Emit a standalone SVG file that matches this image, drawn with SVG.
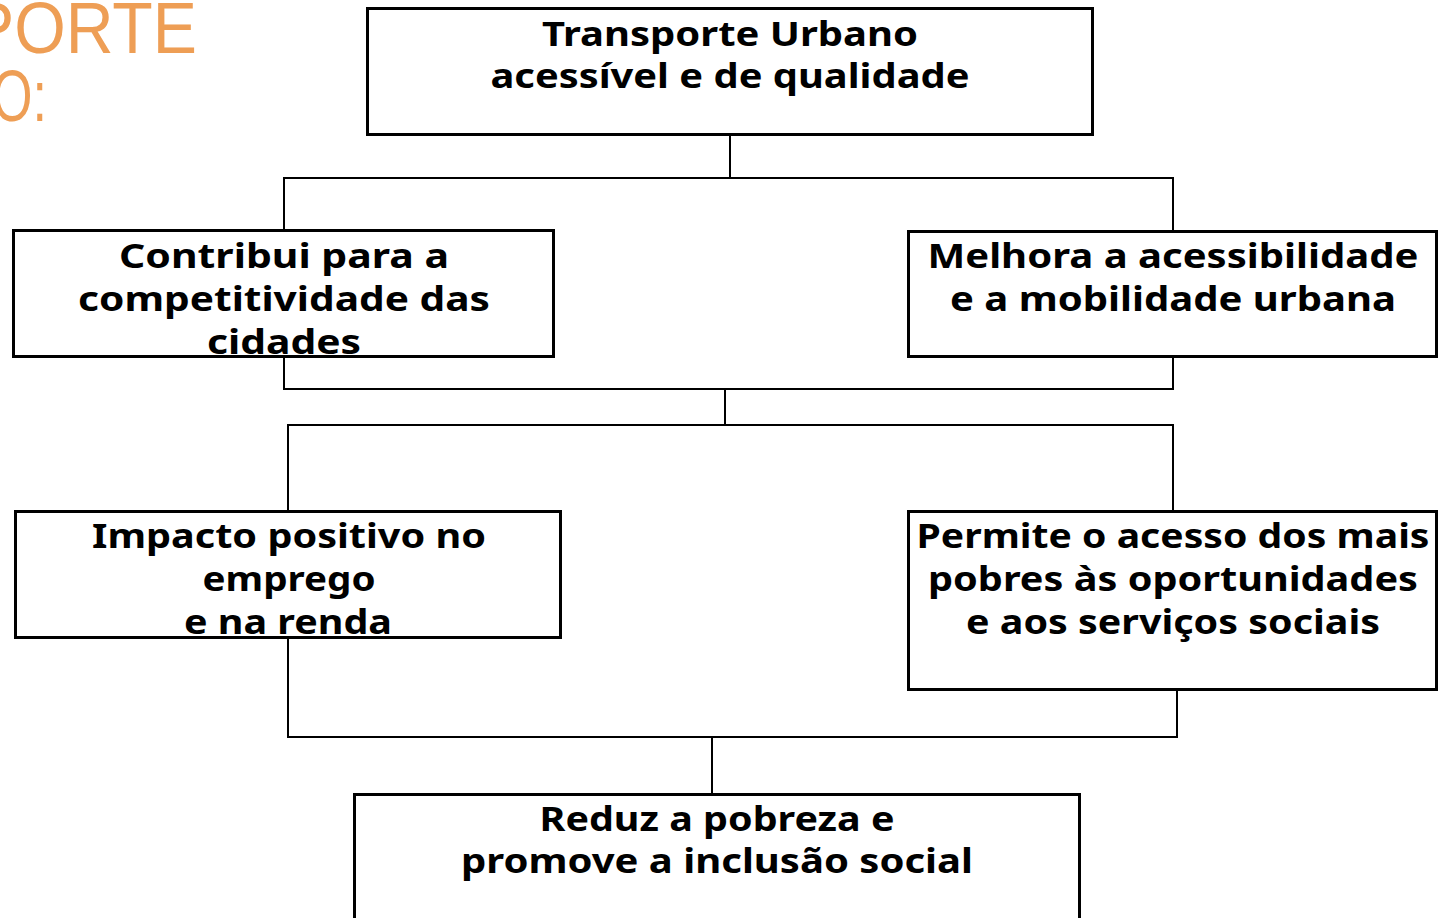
<svg xmlns="http://www.w3.org/2000/svg" width="1439" height="918" viewBox="0 0 1439 918">
  <style>
    .box { fill: #ffffff; stroke: #000000; stroke-width: 3; }
    .lbl { font-family: "Noto Sans", "Open Sans", sans-serif; font-weight: 700; font-size: 34px; fill: #000000; text-anchor: middle; }
    .title { font-family: "Liberation Sans", Arial, sans-serif; font-size: 72px; fill: #EE9E55; }
    .conn { fill: none; stroke: #000000; stroke-width: 2; }
  </style>
  <rect x="0" y="0" width="1439" height="918" fill="#ffffff"/>
  <g id="title">
    <text class="title" x="-30" y="53" textLength="227" lengthAdjust="spacingAndGlyphs">PORTE</text>
    <text class="title" x="-8" y="121" textLength="55" lengthAdjust="spacingAndGlyphs">O:</text>
  </g>
  <g id="connectors">
    <path class="conn" d="M730,127 V178 M284,230 V178 H1173 V230"/>
    <path class="conn" d="M284,350 V389 H1173 V349 M725,389 V425 M288,511 V425 H1173 V511"/>
    <path class="conn" d="M288,630 V737 H1177 V685 M712,737 V793"/>
  </g>
  <g id="n1">
    <rect class="box" x="367.5" y="8.5" width="725" height="126"/>
    <text class="lbl" x="730" y="46" textLength="376" lengthAdjust="spacingAndGlyphs">Transporte Urbano</text>
    <text class="lbl" x="730" y="88" textLength="479" lengthAdjust="spacingAndGlyphs">acessível e de qualidade</text>
  </g>
  <g id="n2">
    <rect class="box" x="13.5" y="230.5" width="540" height="126"/>
    <text class="lbl" x="284" y="268" textLength="330" lengthAdjust="spacingAndGlyphs">Contribui para a</text>
    <text class="lbl" x="284" y="311" textLength="412" lengthAdjust="spacingAndGlyphs">competitividade das</text>
    <text class="lbl" x="284" y="354" textLength="154" lengthAdjust="spacingAndGlyphs">cidades</text>
  </g>
  <g id="n3">
    <rect class="box" x="908.5" y="231.5" width="528" height="125"/>
    <text class="lbl" x="1173" y="268" textLength="491" lengthAdjust="spacingAndGlyphs">Melhora a acessibilidade</text>
    <text class="lbl" x="1173" y="311" textLength="446" lengthAdjust="spacingAndGlyphs">e a mobilidade urbana</text>
  </g>
  <g id="n4">
    <rect class="box" x="15.5" y="511.5" width="545" height="126"/>
    <text class="lbl" x="289" y="548" textLength="394" lengthAdjust="spacingAndGlyphs">Impacto positivo no</text>
    <text class="lbl" x="289" y="591" textLength="173" lengthAdjust="spacingAndGlyphs">emprego</text>
    <text class="lbl" x="288" y="634" textLength="208" lengthAdjust="spacingAndGlyphs">e na renda</text>
  </g>
  <g id="n5">
    <rect class="box" x="908.5" y="511.5" width="528" height="178"/>
    <text class="lbl" x="1173" y="548" textLength="513" lengthAdjust="spacingAndGlyphs">Permite o acesso dos mais</text>
    <text class="lbl" x="1173" y="591" textLength="490" lengthAdjust="spacingAndGlyphs">pobres às oportunidades</text>
    <text class="lbl" x="1173" y="634" textLength="414" lengthAdjust="spacingAndGlyphs">e aos serviços sociais</text>
  </g>
  <g id="n6">
    <rect class="box" x="354.5" y="794.5" width="725" height="130"/>
    <text class="lbl" x="717" y="831" textLength="355" lengthAdjust="spacingAndGlyphs">Reduz a pobreza e</text>
    <text class="lbl" x="717" y="873" textLength="512" lengthAdjust="spacingAndGlyphs">promove a inclusão social</text>
  </g>
</svg>
